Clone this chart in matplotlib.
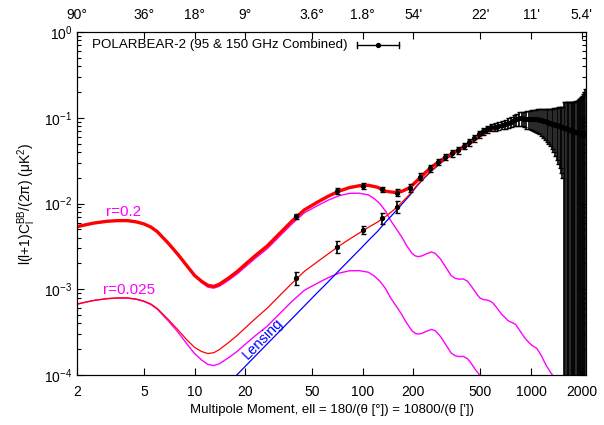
import matplotlib
matplotlib.use("Agg")
import matplotlib.pyplot as plt
import numpy as np

plt.rcParams['font.family'] = ['Liberation Sans', 'DejaVu Sans']
plt.rcParams['mathtext.default'] = 'regular'

# primordial (tensor) BB for r=0.2 and r=0.025
ell_tensor = [2, 2.5, 3, 3.5, 4, 4.5, 5, 5.5, 6, 7, 8, 9, 10, 11, 12, 13, 14, 16, 18, 20,
              23, 27, 32, 38, 45, 53, 62, 72, 83, 95, 108, 117, 126, 137, 146, 158, 170, 183, 196, 205,
              214, 225, 240, 256, 270, 290, 315, 335, 354, 375, 396, 420, 440, 460, 480, 498, 520, 545, 570, 595,
              630, 670, 700, 730, 770, 810, 850, 877, 920, 970, 1020, 1082, 1150, 1230, 1318, 1450, 1600, 1800, 2000, 2200]

tensor_r02 = [0.00537, 0.0059, 0.0062, 0.00632, 0.0063, 0.0061, 0.00577, 0.0053, 0.00469, 0.0034,
              0.0025, 0.00185, 0.00142, 0.0012, 0.00106, 0.00103, 0.00108, 0.00128, 0.00152, 0.00182,
              0.0023, 0.00296, 0.00414, 0.0058, 0.0078, 0.0093, 0.0109, 0.0123, 0.0131, 0.0132,
              0.0126, 0.0114, 0.01, 0.0081, 0.0064, 0.0051, 0.0041, 0.0032, 0.00263, 0.00245,
              0.0024, 0.00245, 0.0026, 0.00272, 0.00262, 0.00225, 0.00175, 0.00145, 0.00134, 0.00131,
              0.00132, 0.00124, 0.0011, 0.00097, 0.00086, 0.00079, 0.00076, 0.00075, 0.00073, 0.00069,
              0.0006, 0.00051, 0.00047, 0.00043, 0.00041, 0.00039, 0.00034, 0.00031, 0.00027, 0.00024,
              0.00022, 0.000205, 0.00017, 0.00013, 0.000105, 8e-05, 6e-05, 4.5e-05, 3.5e-05, 3e-05]

tensor_r0025 = [0.000671, 0.000738, 0.000775, 0.00079, 0.000788, 0.000763, 0.000721, 0.000663, 0.000586, 0.000425,
                0.000313, 0.000231, 0.000178, 0.00015, 0.000133, 0.000129, 0.000135, 0.00016, 0.00019, 0.000228,
                0.000288, 0.00037, 0.000518, 0.000725, 0.000975, 0.00116, 0.00136, 0.00154, 0.00164, 0.00165,
                0.00158, 0.00143, 0.00125, 0.00101, 0.0008, 0.000638, 0.000513, 0.0004, 0.000329, 0.000306,
                0.0003, 0.000306, 0.000325, 0.00034, 0.000328, 0.000281, 0.000219, 0.000181, 0.000168, 0.000164,
                0.000165, 0.000155, 0.000138, 0.000121, 0.000108, 9.9e-05, 9.5e-05, 9.4e-05, 9.1e-05, 8.6e-05,
                7.5e-05, 6.4e-05, 5.9e-05, 5.4e-05, 5.1e-05, 4.9e-05, 4.3e-05, 3.9e-05, 3.4e-05, 3e-05,
                2.8e-05, 2.6e-05, 2.1e-05, 1.6e-05, 1.3e-05, 1e-05, 7.5e-06, 5.6e-06, 4.4e-06, 3.8e-06]

# lensing BB and the two totals (tensor + lensing)
ell_th = [2, 2.5, 3, 3.5, 4, 4.5, 5, 5.5, 6, 7, 8, 9, 10, 11, 12, 13, 14, 16, 18, 20,
          23, 27, 32, 38, 45, 53, 62, 72, 83, 95, 108, 122, 137, 153, 170, 190, 210, 235, 260, 290,
          320, 350, 380, 410, 450, 500, 560, 620, 680, 750, 830, 920, 1020, 1130, 1250, 1400, 1550, 1750, 2000, 2200]

lensing = [1.3e-06, 2e-06, 2.8e-06, 3.9e-06, 5e-06, 6.4e-06, 7.9e-06, 9.5e-06, 1.14e-05, 1.55e-05,
           2e-05, 2.55e-05, 3.2e-05, 3.8e-05, 4.5e-05, 5.3e-05, 6.2e-05, 8.1e-05, 0.000102, 0.000126,
           0.000167, 0.00023, 0.000323, 0.000456, 0.00064, 0.00089, 0.00121, 0.00164, 0.00218, 0.00285,
           0.0037, 0.0047, 0.0061, 0.0077, 0.0097, 0.0124, 0.016, 0.0203, 0.0245, 0.0295,
           0.034, 0.038, 0.042, 0.0462, 0.052, 0.061, 0.07, 0.076, 0.08, 0.086,
           0.095, 0.097, 0.0965, 0.0955, 0.09, 0.0835, 0.077, 0.07, 0.065, 0.062]

total_r02 = [0.00537, 0.0059, 0.0062, 0.00632, 0.00631, 0.00611, 0.00578, 0.00531, 0.0047, 0.00342,
             0.00252, 0.00188, 0.00145, 0.00124, 0.00111, 0.00108, 0.00114, 0.00136, 0.00162, 0.00195,
             0.00247, 0.00319, 0.00446, 0.00626, 0.00844, 0.0102, 0.0121, 0.0139, 0.0153, 0.0161,
             0.0163, 0.0155, 0.0139, 0.0135, 0.0138, 0.0153, 0.0184, 0.0228, 0.0272, 0.0317,
             0.0356, 0.0393, 0.0433, 0.0475, 0.0531, 0.0618, 0.0707, 0.0767, 0.0805, 0.0864,
             0.0953, 0.0972, 0.0967, 0.0957, 0.0901, 0.0836, 0.0771, 0.0701, 0.065, 0.062]

total_r0025 = [0.000672, 0.00074, 0.000778, 0.000794, 0.000793, 0.000769, 0.000729, 0.000673, 0.000597, 0.000441,
               0.000333, 0.000257, 0.00021, 0.000188, 0.000178, 0.000182, 0.000197, 0.000241, 0.000292, 0.000354,
               0.000455, 0.0006, 0.000841, 0.00118, 0.00162, 0.00205, 0.00257, 0.00318, 0.00382, 0.0045,
               0.00528, 0.00605, 0.00708, 0.00843, 0.0102, 0.0128, 0.0163, 0.0206, 0.0248, 0.0298,
               0.0342, 0.0382, 0.0422, 0.0464, 0.0521, 0.0611, 0.0701, 0.0761, 0.0801, 0.0861,
               0.095, 0.097, 0.0965, 0.0955, 0.09, 0.0835, 0.077, 0.07, 0.065, 0.062]

# PB-2 forecast band powers (r=0.2 + lensing), delta-ell = 30
ell_bins = [40, 70, 100, 130, 160, 190, 220, 250, 280, 310, 340, 370, 400, 430, 460, 490, 520, 550, 580, 610,
            640, 670, 700, 730, 760, 790, 820, 850, 880, 910, 940, 970, 1000, 1030, 1060, 1090, 1120, 1150, 1180, 1210,
            1240, 1270, 1300, 1330, 1360, 1390, 1420, 1450, 1480, 1510, 1540, 1570, 1600, 1630, 1660, 1690, 1720, 1750, 1780, 1810,
            1840, 1870, 1900, 1930, 1960, 1990, 2020, 2050, 2080, 2110]
bb_r02 = [0.0071, 0.014, 0.016, 0.0146, 0.0134, 0.0152, 0.0205, 0.0257, 0.0305, 0.035,
          0.0385, 0.0421, 0.047, 0.0516, 0.0575, 0.064, 0.07, 0.074, 0.077, 0.079,
          0.081, 0.083, 0.085, 0.0875, 0.09, 0.0935, 0.0965, 0.0985, 0.0985, 0.0975,
          0.0965, 0.0965, 0.097, 0.097, 0.0965, 0.096, 0.095, 0.094, 0.0925, 0.091,
          0.0895, 0.088, 0.0868, 0.0855, 0.0843, 0.083, 0.0818, 0.0806, 0.0795, 0.0784,
          0.0773, 0.0762, 0.0752, 0.0742, 0.0733, 0.0724, 0.0715, 0.0707, 0.0699, 0.0691,
          0.0684, 0.0677, 0.067, 0.0664, 0.0658, 0.0652, 0.0646, 0.0641, 0.0636, 0.0631]
err_r02 = [0.0005, 0.001, 0.0012, 0.0011, 0.0012, 0.0016, 0.0019, 0.0023, 0.0027, 0.0031,
           0.0035, 0.0039, 0.0043, 0.0048, 0.0053, 0.0058, 0.0064, 0.0069, 0.0075, 0.0081,
           0.0088, 0.0095, 0.0103, 0.0112, 0.0123, 0.0137, 0.0155, 0.0175, 0.019, 0.0205,
           0.022, 0.0235, 0.025, 0.0265, 0.0278, 0.029, 0.0305, 0.0322, 0.034, 0.0355,
           0.037, 0.0385, 0.04, 0.042, 0.0445, 0.047, 0.0495, 0.0515, 0.0535, 0.0555,
           0.0575, 0.0765, 0.077, 0.0775, 0.078, 0.079, 0.08, 0.0815, 0.083, 0.085,
           0.0875, 0.0905, 0.094, 0.098, 0.103, 0.109, 0.116, 0.125, 0.138, 0.156]

# r=0.025 band powers where they separate from the r=0.2 ones
ell_bins_low = [40, 70, 100, 130, 160]
bb_r0025 = [0.00136, 0.00313, 0.00491, 0.0067, 0.0092]
err_r0025 = [0.00024, 0.0005, 0.00055, 0.001, 0.0014]

x_ticks = [2, 5, 10, 20, 50, 100, 200, 500, 1000, 2000]
top_labels = ["90°", "36°", "18°", "9°", "3.6°", "1.8°", "54'", "22'", "11'", "5.4'"]

fig = plt.figure(figsize=(6.04, 4.25), dpi=100)
ax = fig.add_axes([0.1275, 0.1176, 0.8427, 0.8071])

ax.plot(ell_tensor, tensor_r02, color='#ff00ff', lw=1.0)
ax.plot(ell_tensor, tensor_r0025, color='#ff00ff', lw=1.0)
ax.plot(ell_th, lensing, color='#0000ff', lw=0.9)
ax.plot(ell_th, total_r0025, color='#ff0000', lw=0.9)
ax.plot(ell_th, total_r02, color='#ff0000', lw=2.4)

ax.errorbar(ell_bins, bb_r02, yerr=err_r02, fmt='o', ms=2.8, color='black',
            elinewidth=1.2, capsize=1.8, capthick=1.0)
ax.errorbar(ell_bins_low, bb_r0025, yerr=err_r0025, fmt='o', ms=2.8, color='black',
            elinewidth=1.2, capsize=1.8, capthick=1.0)

ax.set_xscale('log')
ax.set_yscale('log')
ax.set_xlim(2, 2125)
ax.set_ylim(1e-4, 1)
ax.set_xticks(x_ticks)
ax.set_xticklabels([str(t) for t in x_ticks])
ax.xaxis.set_minor_locator(matplotlib.ticker.NullLocator())
ax.tick_params(which='both', direction='in', right=True, top=False, labelsize=10)
ax.tick_params(which='major', length=5, width=0.8)
ax.tick_params(which='minor', length=3, width=0.8)
ax.tick_params(axis='x', pad=7)

ax_top = ax.twiny()
ax_top.set_xscale('log')
ax_top.set_xlim(ax.get_xlim())
ax_top.set_xticks(x_ticks)
ax_top.set_xticklabels(top_labels)
ax_top.xaxis.set_minor_locator(matplotlib.ticker.NullLocator())
ax_top.tick_params(direction='in', length=5, width=0.8, labelsize=10, pad=7)

ax.set_xlabel("Multipole Moment, ell = 180/(θ [°]) = 10800/(θ ['])", fontsize=9.5, labelpad=4)
ax.set_ylabel(r'l(l+1)C$_\mathregular{l}^\mathregular{BB}$/(2π) (μK$^\mathregular{2}$)', fontsize=10, labelpad=4)

ax.text(2.96, 0.00796, "r=0.2", color='#ff00ff', fontsize=11, va='center')
ax.text(2.86, 0.00098, "r=0.025", color='#ff00ff', fontsize=11, va='center')
ax.text(25.5, 2.68e-4, "Lensing", color='#0000ff', fontsize=10.5, rotation=45.5,
        ha='center', va='center', rotation_mode='anchor')

# legend entry drawn like gnuplot's errorbar key sample
ax.text(0.0295, 0.962, "POLARBEAR-2 (95 & 150 GHz Combined)", transform=ax.transAxes,
        fontsize=9.6, va='center')
ax.plot([0.5495, 0.633], [0.962, 0.962], color='black', lw=1.0, transform=ax.transAxes)
ax.plot([0.5495, 0.5495], [0.953, 0.971], color='black', lw=1.0, transform=ax.transAxes)
ax.plot([0.633, 0.633], [0.953, 0.971], color='black', lw=1.0, transform=ax.transAxes)
ax.plot([0.592], [0.962], 'o', ms=2.8, color='black', transform=ax.transAxes)

fig.savefig("out.png", dpi=100)
